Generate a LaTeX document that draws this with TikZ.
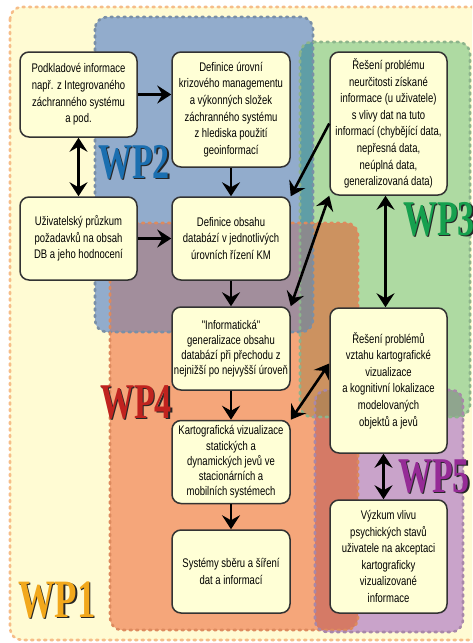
\documentclass[tikz,border=0pt]{standalone}
\usepackage{fontspec}
\usetikzlibrary{arrows.meta}
\setmainfont{Liberation Sans}
\newfontfamily\boxfont[FakeStretch=0.76]{Liberation Sans}
\newfontfamily\wpfont[FakeStretch=0.68]{Liberation Serif}
\definecolor{wpAfill}{HTML}{FFFBD3}\definecolor{wpAbord}{HTML}{F6BD88}
\definecolor{wpBfill}{HTML}{92ACCC}\definecolor{wpBbord}{HTML}{7A8FA6}
\definecolor{wpCfill}{HTML}{AEDAA2}\definecolor{wpCbord}{HTML}{8DB48C}
\definecolor{wpDfill}{HTML}{F5A67A}\definecolor{wpDbord}{HTML}{DD8A5E}
\definecolor{wpEfill}{HTML}{C9A3CA}\definecolor{wpEbord}{HTML}{A888A9}
\definecolor{cBC}{HTML}{5F9EA6}
\definecolor{cBD}{HTML}{A28E9C}
\definecolor{cBCD}{HTML}{8A8A8E}
\definecolor{cCD}{HTML}{CC9260}
\definecolor{cCE}{HTML}{8FA58E}
\definecolor{cDE}{HTML}{D57A66}
\definecolor{cCDE}{HTML}{B58558}
\definecolor{boxfill}{HTML}{FFFFD6}
\definecolor{lblA}{HTML}{F2A81C}
\definecolor{lblB}{HTML}{1B6FB0}
\definecolor{lblC}{HTML}{16A04E}
\definecolor{lblD}{HTML}{C0231F}
\definecolor{lblE}{HTML}{952B96}
\def\pA{(10,7) rectangle (500,640)}
\def\pB{(95,17) rectangle (313,332)}
\def\pC{(300,42) rectangle (470,417)}
\def\pD{(110,223) rectangle (358,630)}
\def\pE{(315,390) rectangle (463,632)}
\begin{document}
\begin{tikzpicture}[x=1pt,y=-1pt,
  region/.style={rounded corners=12pt},
  wpborder/.style={rounded corners=12pt,line width=2.6pt,line cap=round,dash pattern=on 2pt off 4.5pt},
  box/.style={draw=black!80,line width=1.5pt,fill=boxfill,rounded corners=9pt,
    minimum width=117pt,inner sep=0pt,align=center,
    font=\boxfont\fontsize{12.5}{16.6}\selectfont},
  tightbox/.style={box,font=\boxfont\fontsize{12.5}{15.2}\selectfont},
  arr/.style={line width=2.6pt,-{Stealth[length=14pt,width=18pt,inset=5pt]}},
  darr/.style={line width=2.6pt,{Stealth[length=14pt,width=18pt,inset=5pt]}-{Stealth[length=14pt,width=18pt,inset=5pt]}},
  wplabel/.style={anchor=base west,inner sep=0pt,font=\wpfont\bfseries\fontsize{50}{50}\selectfont},
  wpshadow/.style={wplabel,text=black!85}
]
\useasboundingbox (0,0) rectangle (472,643);
\clip (0,0) rectangle (472,643);
% single regions
\fill[white] (0,0) rectangle (472,643);
\fill[wpAfill,region] \pA;
\fill[wpBfill,region] \pB;
\fill[wpCfill,region] \pC;
\fill[wpDfill,region] \pD;
\fill[wpEfill,region] \pE;
% pairwise overlaps
\begin{scope}\clip[region] \pB; \fill[cBC,region] \pC; \fill[cBD,region] \pD;\end{scope}
\begin{scope}\clip[region] \pC; \fill[cCD,region] \pD; \fill[cCE,region] \pE;\end{scope}
\begin{scope}\clip[region] \pD; \fill[cDE,region] \pE;\end{scope}
% triple overlaps
\begin{scope}\clip[region] \pB; \clip[region] \pC; \fill[cBCD,region] \pD;\end{scope}
\begin{scope}\clip[region] \pC; \clip[region] \pD; \fill[cCDE,region] \pE;\end{scope}
% borders
\draw[wpborder,wpAbord] \pA;
\draw[wpborder,wpBbord] \pB;
\draw[wpborder,wpCbord] \pC;
\draw[wpborder,wpDbord] \pD;
\draw[wpborder,wpEbord] \pE;
% labels
\node[wpshadow] (lB0) at (99.2,179.2) {WP2};
\node[wplabel,text=lblB] (lB) at (98,178) {WP2};
\node[wpshadow] (lC0) at (404.2,236.2) {WP3};
\node[wplabel,text=lblC] (lC) at (403,235) {WP3};
\node[wpshadow] (lD0) at (101.2,419.2) {WP4};
\node[wplabel,text=lblD] (lD) at (100,418) {WP4};
\node[wpshadow] (lE0) at (399.2,493.2) {WP5};
\node[wplabel,text=lblE] (lE) at (398,492) {WP5};
\node[wpshadow,font=\wpfont\bfseries\fontsize{54}{54}\selectfont] (lA0) at (19.3,618.3) {WP1};
\node[wplabel,text=lblA,font=\wpfont\bfseries\fontsize{54}{54}\selectfont] (lA) at (18,617) {WP1};
% boxes
\node[box,minimum height=85pt] (B1) at (78.5,94.5) {Podkladové informace\\např. z Integrovaného\\záchranného systému\\a pod.};
\node[box,minimum width=118pt,minimum height=115pt] (B2) at (231,109.5) {Definice úrovní\\krizového managementu\\a výkonných složek\\záchranného systému\\z hlediska použití\\geoinformací};
\node[box,minimum height=143pt] (B3) at (388.5,123.5) {Řešení problému\\neurčitosti získané\\informace (u uživatele)\\s vlivy dat na tuto\\informací (chybějící data,\\nepřesná data,\\neúplná data,\\generalizovaná data)};
\node[box,minimum height=83pt] (B4) at (78.5,238.5) {Uživatelský průzkum\\požadavků na obsah\\DB a jeho hodnocení};
\node[box,minimum width=118pt,minimum height=83pt] (B5) at (231,238.5) {Definice obsahu\\databází v jednotlivých\\úrovních řízení KM};
\node[tightbox,minimum width=118pt,minimum height=83pt] (B6) at (231,348.5) {"Informatická"\\generalizace obsahu\\databází při přechodu z\\nejnižší po nejvyšší úroveň};
\node[box,minimum height=145pt] (B7) at (388.5,380.5) {Řešení problémů\\vztahu kartografické\\vizualizace\\a kognitivní lokalizace\\modelovaných\\objektů a jevů};
\node[tightbox,minimum width=118pt,minimum height=83pt] (B8) at (231,462) {Kartografická vizualizace\\statických a\\dynamických jevů ve\\stacionárních a\\mobilních systémech};
\node[box,minimum width=118pt,minimum height=83pt] (B9) at (231,571.5) {Systémy sběru a šíření\\dat a informací};
\node[box,minimum height=113pt] (B10) at (388.5,556.5) {Výzkum vlivu\\psychických stavů\\uživatele na akceptaci\\kartograficky\\vizualizované\\informace};
% connectors
\draw[arr] (B1.east) -- (B1.east -| B2.west);
\draw[darr] (B1.south) -- (B4.north);
\draw[arr] (B2.south) -- (B5.north);
\draw[arr] (B4.east) -- (B4.east -| B5.west);
\draw[arr] (B3.west) -- (B5.north east);
\draw[darr] (B6.north east) -- (B3.south west);
\draw[darr] ([xshift=-3pt]B3.south) -- ([xshift=-3pt]B7.north);
\draw[arr] (B5.south) -- (B6.north);
\draw[arr] (B6.south) -- (B8.north);
\draw[darr] ([yshift=17pt]B7.west) -- (B8.north east);
\draw[arr] (B8.south) -- (B9.north);
\draw[darr] ([xshift=-5pt]B7.south) -- ([xshift=-5pt]B10.north);
\end{tikzpicture}
\end{document}
